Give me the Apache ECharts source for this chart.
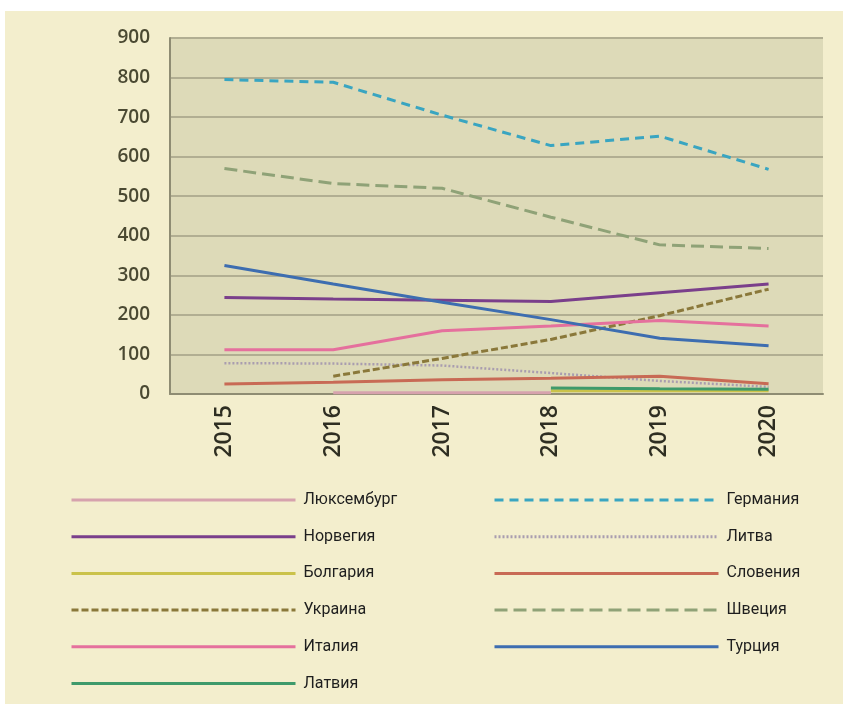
<!DOCTYPE html>
<html><head><meta charset="utf-8">
<script src="https://cdn.jsdelivr.net/npm/echarts@6/dist/echarts.min.js"></script>
<style>html,body{margin:0;padding:0;background:#ffffff;width:843px;height:704px;overflow:hidden}
#c{position:absolute;left:5px;top:11px;width:838px;height:693px}</style>
</head><body><div id="c"></div>
<script>
const years = ['2015','2016','2017','2018','2019','2020'];
const yTicks = [0,100,200,300,400,500,600,700,800,900];
const luxembourg = [null, 3, 3, 3, null, null];
const germany    = [795, 788, 705, 628, 652, 568];
const norway     = [244, 240, 237, 234, 256, 278];
const lithuania  = [78, 77, 72, 53, 33, 18];
const bulgaria   = [null, null, null, 8, 8, 8];
const slovenia   = [25, 30, 36, 40, 45, 26];
const ukraine    = [null, 45, 90, 138, 198, 265];
const sweden     = [570, 532, 520, 447, 377, 368];
const italy      = [112, 112, 160, 172, 186, 172];
const turkey     = [325, 278, 232, 188, 141, 122];
const latvia     = [null, null, null, 15, 13, 12];

const defs = [
  ['Люксембург', luxembourg, '#d6a2ad', 'solid', 3],
  ['Германия', germany, '#39a5c1', [9,6], 3],
  ['Норвегия', norway, '#7a3f8b', 'solid', 3],
  ['Литва', lithuania, '#a99daf', [2,2], 2.5],
  ['Болгария', bulgaria, '#cac24a', 'solid', 3],
  ['Словения', slovenia, '#c86a55', 'solid', 3],
  ['Украина', ukraine, '#8a783a', [7,3], 3],
  ['Швеция', sweden, '#8fa277', [13,6], 3],
  ['Италия', italy, '#e5709d', 'solid', 3],
  ['Турция', turkey, '#3d6db0', 'solid', 3],
  ['Латвия', latvia, '#3e9a6b', 'solid', 3]
];
const series = defs.map(d => ({
  name: d[0], type: 'line', data: d[1], showSymbol: false, symbol: 'none',
  lineStyle: {color: d[2], type: d[3], width: d[4]}, itemStyle: {color: d[2]},
  connectNulls: false, animation: false
}));
const leftNames = defs.filter((d,i)=>i%2===0).map(d=>d[0]);
const rightNames = defs.filter((d,i)=>i%2===1).map(d=>d[0]);
const legendCommon = {
  orient: 'vertical', itemWidth: 224, itemHeight: 18, itemGap: 18.7, padding: 0,
  itemStyle: {opacity: 0},
  lineStyle: {width: 3},
  textStyle: {fontFamily: 'Roboto, sans-serif', fontSize: 16, color: '#1e1e1e', lineHeight: 18, padding:[0,0,0,3]},
  selectedMode: false
};
const chart = echarts.init(document.getElementById('c'), null, {renderer: 'canvas'});
chart.setOption({
  backgroundColor: '#f3eecd',
  animation: false,
  grid: {left: 165, right: 20, top: 27, bottom: 310, show: true, backgroundColor: '#dddab8', borderWidth: 0},
  legend: [
    Object.assign({}, legendCommon, {left: 65, top: 480, data: leftNames}),
    Object.assign({}, legendCommon, {left: 488, top: 480, data: rightNames})
  ],
  xAxis: {
    type: 'category', data: years, boundaryGap: true,
    axisLine: {show: true, lineStyle: {color: '#8e8c73', width: 2}},
    axisTick: {show: false},
    axisLabel: {rotate: 90, margin: 11, fontSize: 23, color: '#2e2e22', fontFamily: 'Open Sans, sans-serif', fontWeight: 600},
    splitLine: {show: false}
  },
  yAxis: {
    type: 'value', min: yTicks[0], max: yTicks[yTicks.length-1], interval: 100,
    axisLine: {show: true, lineStyle: {color: '#8e8c73', width: 2}},
    axisTick: {show: false},
    axisLabel: {margin: 20, fontSize: 19, color: '#4a4932', fontFamily: 'Open Sans, sans-serif', fontWeight: 600},
    splitLine: {show: true, lineStyle: {color: '#b1ae92', width: 2}}
  },
  series: series
});
</script></body></html>
